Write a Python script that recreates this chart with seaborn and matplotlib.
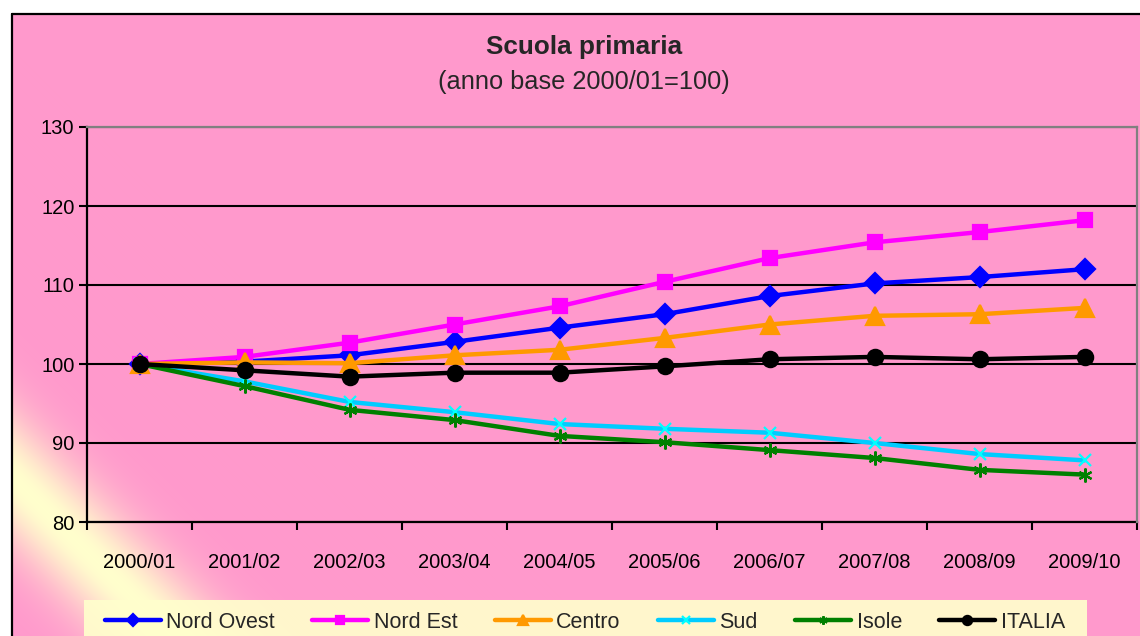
import numpy as np
import pandas as pd
import matplotlib
matplotlib.use("Agg")
import matplotlib.pyplot as plt
from matplotlib.patches import Rectangle
import seaborn as sns

# anni scolastici (asse x)
anni = ['2000/01', '2001/02', '2002/03', '2003/04', '2004/05',
        '2005/06', '2006/07', '2007/08', '2008/09', '2009/10']

# indici, anno base 2000/01 = 100
nord_ovest = [100, 100.3, 101.1, 102.8, 104.6, 106.3, 108.6, 110.2, 111.0, 112.0]
nord_est = [100, 100.9, 102.7, 105.0, 107.3, 110.4, 113.4, 115.4, 116.7, 118.2]
centro = [100, 100.2, 100.1, 101.1, 101.8, 103.3, 105.0, 106.1, 106.3, 107.1]
sud = [100, 97.8, 95.2, 93.9, 92.4, 91.8, 91.3, 90.0, 88.6, 87.8]
isole = [100, 97.2, 94.2, 92.9, 90.9, 90.1, 89.1, 88.1, 86.6, 86.0]
italia = [100, 99.2, 98.4, 98.9, 98.9, 99.7, 100.6, 100.9, 100.6, 100.9]

serie = {
    'Nord Ovest': nord_ovest,
    'Nord Est': nord_est,
    'Centro': centro,
    'Sud': sud,
    'Isole': isole,
    'ITALIA': italia,
}

# stile per serie: colore linea, marker, colore marker, dimensione
stili = {
    'Nord Ovest': dict(color='#0000FF', marker='D', mc='#0000FF', ms=10.5),
    'Nord Est': dict(color='#FF00FF', marker='s', mc='#FF00FF', ms=10.5),
    'Centro': dict(color='#FF9900', marker='^', mc='#FF9900', ms=13),
    'Sud': dict(color='#00CCFF', marker='x', mc='#00FFFF', ms=9),
    'Isole': dict(color='#008000', marker=(6, 2, 0), mc='#008000', ms=10),
    'ITALIA': dict(color='#000000', marker='o', mc='#000000', ms=11),
}

PINK = np.array([255, 153, 204]) / 255
YELLOW = np.array([255, 255, 204]) / 255

sns.set_style('white')
plt.rcParams['font.family'] = ['Liberation Sans', 'DejaVu Sans']

W, H = 1140, 636
fig = plt.figure(figsize=(W / 100, H / 100), dpi=100)
fig.patch.set_facecolor('white')

# sfondo: rosa con banda gialla diagonale in basso a sinistra
bg = fig.add_axes([0, 0, 1, 1], zorder=-10)
xx, yy = np.meshgrid(np.arange(W) + 0.5, np.arange(H) + 0.5)
d = (xx - 11) + (H - yy)
w = np.exp(-((d - 160) / 70) ** 2)[..., None]
img = PINK * (1 - w) + YELLOW * w
outside = (xx < 11) | (yy < 13)
img[outside] = 1.0
bg.imshow(img, extent=(0, W, H, 0), aspect='auto', interpolation='bilinear')
bg.plot([11.5, 11.5], [13.5, H], color='black', lw=1.6)
bg.plot([11.5, W], [13.5, 13.5], color='black', lw=1.6)
# riquadro della legenda
bg.add_patch(Rectangle((84, 600), 1003, 40, facecolor='#FFFFCC',
                       edgecolor='none', alpha=0.92))
bg.set_xlim(0, W)
bg.set_ylim(H, 0)
bg.axis('off')

ax = fig.add_axes([87 / W, 1 - 522 / H, 1050 / W, 395 / H])
ax.patch.set_visible(False)

for nome, valori in serie.items():
    st = stili[nome]
    sns.lineplot(x=anni, y=valori, ax=ax, color=st['color'], lw=3.2,
                 marker=st['marker'], ms=st['ms'], mfc=st['mc'], mec=st['mc'],
                 mew=1.6, label=nome, legend=False)

ax.set_xlim(-0.5, len(anni) - 0.5)
ax.set_ylim(80, 130)
ax.set_yticks([80, 90, 100, 110, 120, 130])
ax.set_xticks(range(len(anni)))
ax.set_xticklabels(anni)
ax.set_xticks(np.arange(len(anni) + 1) - 0.5, minor=True)
ax.set_xlabel('')
ax.set_ylabel('')

ax.yaxis.grid(True, color='black', lw=1.5)
ax.xaxis.grid(False)
ax.set_axisbelow(True)

for s in ['left', 'bottom']:
    ax.spines[s].set_color('black')
    ax.spines[s].set_linewidth(1.6)
for s in ['top', 'right']:
    ax.spines[s].set_color('#808080')
    ax.spines[s].set_linewidth(1.6)
    ax.spines[s].set_zorder(3)

ax.tick_params(axis='y', which='major', direction='out', length=6, width=1.5,
               color='black', left=True, pad=3, labelsize=14.5, labelcolor='black')
ax.tick_params(axis='x', which='major', length=0, pad=22, labelsize=14.5,
               labelcolor='black')
ax.tick_params(axis='x', which='minor', direction='out', length=6, width=1.5,
               color='black', bottom=True)

fig.text(584 / W, 1 - 47 / H, 'Scuola primaria', ha='center', va='center',
         fontsize=18.8, fontweight='bold')
fig.text(584 / W, 1 - 82 / H, '(anno base 2000/01=100)', ha='center',
         va='center', fontsize=18.3)

handles, labels = ax.get_legend_handles_labels()
leg = fig.legend(handles, labels, loc='center left',
                 bbox_to_anchor=(105 / W, 1 - 622 / H), ncol=6, fontsize=15.5,
                 frameon=False, handlelength=2.6, handletextpad=0.25,
                 columnspacing=1.74, markerscale=0.6,
                 borderpad=0, borderaxespad=0)

fig.savefig('out.png', dpi=100, facecolor=fig.get_facecolor())
